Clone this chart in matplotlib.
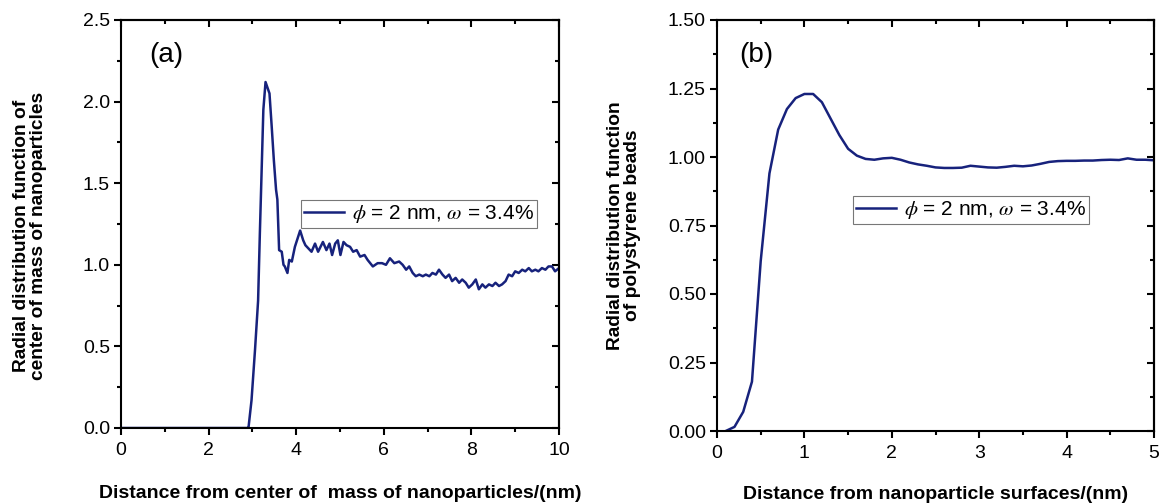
import matplotlib
matplotlib.use("Agg")
import matplotlib.pyplot as plt
from matplotlib.ticker import MultipleLocator, FormatStrFormatter

plt.rcParams['font.family'] = ['Liberation Sans', 'DejaVu Sans']
plt.rcParams['mathtext.fontset'] = 'stix'

# (a) RDF between nanoparticle centres of mass
r_a = [0.0, 2.9, 2.91, 2.98, 3.06, 3.13, 3.17, 3.25, 3.30, 3.39, 3.44, 3.49, 3.54,
       3.57, 3.61, 3.67, 3.71, 3.74, 3.80, 3.84, 3.90, 3.97, 4.09, 4.16, 4.21,
       4.35, 4.43, 4.50, 4.61, 4.69, 4.76, 4.82, 4.89, 4.95, 5.01, 5.08, 5.15,
       5.23, 5.30, 5.38, 5.46, 5.56, 5.63, 5.75, 5.86, 5.96, 6.05, 6.14, 6.24,
       6.35, 6.43, 6.51, 6.58, 6.66, 6.73, 6.81, 6.89, 6.96, 7.04, 7.11, 7.19,
       7.26, 7.34, 7.41, 7.49, 7.56, 7.64, 7.72, 7.79, 7.87, 7.94, 8.02, 8.10,
       8.17, 8.25, 8.32, 8.40, 8.48, 8.55, 8.63, 8.70, 8.78, 8.85, 8.93, 9.00,
       9.08, 9.16, 9.23, 9.31, 9.38, 9.46, 9.53, 9.61, 9.69, 9.76, 9.84, 9.91,
       10.0]
g_a = [0.0, 0.0, 0.0, 0.17, 0.48, 0.78, 1.19, 1.95, 2.12, 2.05, 1.85, 1.64, 1.46,
       1.40, 1.09, 1.08, 1.00, 0.99, 0.95, 1.03, 1.02, 1.11, 1.21, 1.15, 1.12,
       1.08, 1.13, 1.08, 1.14, 1.09, 1.13, 1.06, 1.13, 1.15, 1.06, 1.14, 1.12,
       1.11, 1.08, 1.09, 1.05, 1.06, 1.03, 0.99, 1.01, 1.01, 1.00, 1.04, 1.01,
       1.02, 1.00, 0.97, 0.99, 0.95, 0.93, 0.94, 0.93, 0.94, 0.93, 0.95, 0.94,
       0.97, 0.94, 0.92, 0.94, 0.90, 0.92, 0.89, 0.91, 0.89, 0.86, 0.88, 0.91,
       0.85, 0.88, 0.86, 0.88, 0.87, 0.89, 0.87, 0.88, 0.90, 0.94, 0.93, 0.96,
       0.95, 0.97, 0.96, 0.98, 0.96, 0.97, 0.96, 0.98, 0.97, 0.99, 0.99, 0.96,
       0.98]

# (b) RDF of polystyrene beads around nanoparticle surfaces
r_b = [0.1, 0.2, 0.3, 0.4, 0.5, 0.6, 0.7, 0.8, 0.9, 1.0, 1.1, 1.2, 1.3, 1.4,
       1.5, 1.6, 1.7, 1.8, 1.9, 2.0, 2.1, 2.2, 2.3, 2.4, 2.5, 2.6, 2.7, 2.8,
       2.9, 3.0, 3.1, 3.2, 3.3, 3.4, 3.5, 3.6, 3.7, 3.8, 3.9, 4.0, 4.1, 4.2,
       4.3, 4.4, 4.5, 4.6, 4.7, 4.8, 4.9, 5.0]
g_b = [0.0, 0.015, 0.07, 0.18, 0.62, 0.94, 1.10, 1.175, 1.215, 1.23, 1.23, 1.20,
       1.14, 1.08, 1.03, 1.005, 0.993, 0.99, 0.995, 0.997, 0.99, 0.98, 0.973,
       0.968, 0.962, 0.96, 0.96, 0.961, 0.968, 0.965, 0.962, 0.961, 0.964,
       0.968, 0.966, 0.969, 0.975, 0.982, 0.985, 0.986, 0.986, 0.987, 0.987,
       0.989, 0.99, 0.989, 0.995, 0.99, 0.99, 0.988]

legend_text = r"$\phi$ = 2 nm, $\omega$ = 3.4%"
line_color = "#17227c"

fig = plt.figure(figsize=(11.64, 5.04), dpi=100)
ax_a = fig.add_axes([121 / 1164, 1 - 428 / 504, 438 / 1164, 408 / 504])
ax_b = fig.add_axes([717 / 1164, 1 - 431 / 504, 437 / 1164, 411 / 504])


def style_axes(ax, xmaj, xmin, ymaj, ymin, yfmt):
    for sp in ax.spines.values():
        sp.set_linewidth(1.5)
    ax.xaxis.set_major_locator(MultipleLocator(xmaj))
    ax.xaxis.set_minor_locator(MultipleLocator(xmin))
    ax.yaxis.set_major_locator(MultipleLocator(ymaj))
    ax.yaxis.set_minor_locator(MultipleLocator(ymin))
    ax.yaxis.set_major_formatter(FormatStrFormatter(yfmt))
    ax.tick_params(which='both', direction='out', width=1.5, labelsize=14)
    ax.tick_params(axis='x', pad=5)
    ax.tick_params(axis='y', pad=3)
    ax.tick_params(which='major', length=5)
    ax.tick_params(which='minor', length=3)
    # mirrored ticks on top and right pointing inward
    top = ax.secondary_xaxis('top')
    right = ax.secondary_yaxis('right')
    top.xaxis.set_major_locator(MultipleLocator(xmaj))
    top.xaxis.set_minor_locator(MultipleLocator(xmin))
    right.yaxis.set_major_locator(MultipleLocator(ymaj))
    right.yaxis.set_minor_locator(MultipleLocator(ymin))
    for sec in (top, right):
        for sp in sec.spines.values():
            sp.set_linewidth(1.5)
        sec.tick_params(which='both', direction='in', width=1.5,
                        labeltop=False, labelright=False)
        sec.tick_params(which='major', length=5)
        sec.tick_params(which='minor', length=3)


def add_legend(ax, x_frac, y_frac):
    leg = ax.legend(loc='upper left', bbox_to_anchor=(x_frac, y_frac),
                    fontsize=15, frameon=True, fancybox=False,
                    edgecolor='#555555', handlelength=1.9, handletextpad=0.4,
                    borderpad=0.15, borderaxespad=0.0)
    leg.get_frame().set_linewidth(0.8)
    return leg


ax_a.plot(r_a, g_a, color=line_color, lw=1.8, label=legend_text)
ax_a.set_xlim(0, 10)
ax_a.set_ylim(0, 2.5)
style_axes(ax_a, 2, 1, 0.5, 0.25, '%.1f')
ax_a.set_xlabel("Distance from center of  mass of nanoparticles/(nm)",
                fontsize=14, fontweight='bold')
ax_a.set_ylabel("Radial distribution function of\ncenter of mass of nanoparticles",
                fontsize=13.8, fontweight='bold', linespacing=1.0)
ax_a.xaxis.set_label_coords(0.5, -0.14)
ax_a.yaxis.set_label_coords(-0.168, 0.47)
ax_a.text(0.065, 0.915, "(a)", transform=ax_a.transAxes, fontsize=20,
          va='center', ha='left')
add_legend(ax_a, 180 / 438, 1 - 180 / 408)

ax_b.plot(r_b, g_b, color=line_color, lw=1.8, label=legend_text)
ax_b.set_xlim(0, 5)
ax_b.set_ylim(0, 1.5)
style_axes(ax_b, 1, 0.5, 0.25, 0.125, '%.2f')
ax_b.set_xlabel("Distance from nanoparticle surfaces/(nm)",
                fontsize=14, fontweight='bold')
ax_b.set_ylabel("Radial distribution function\nof polystyrene beads",
                fontsize=13.8, fontweight='bold', linespacing=1.0)
ax_b.xaxis.set_label_coords(0.5, -0.133)
ax_b.yaxis.set_label_coords(-0.174, 0.5)
ax_b.text(0.05, 0.915, "(b)", transform=ax_b.transAxes, fontsize=20,
          va='center', ha='left')
add_legend(ax_b, 136 / 437, 1 - 176 / 411)

fig.savefig("out.png", dpi=100, facecolor='white')
